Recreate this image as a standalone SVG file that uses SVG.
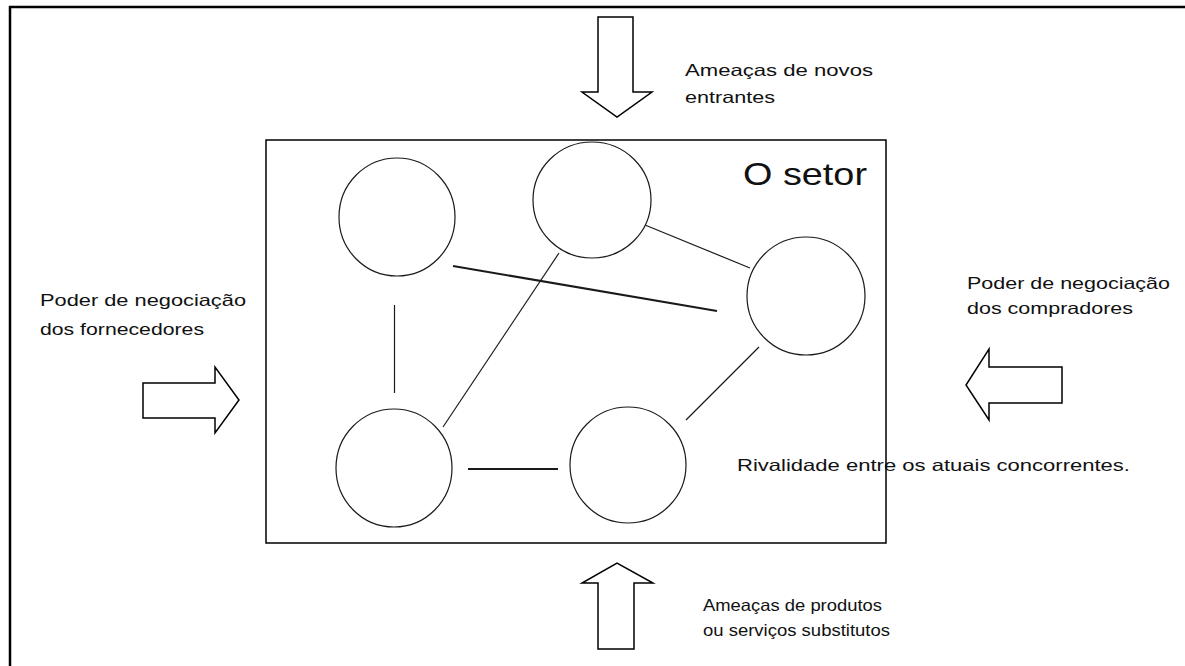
<svg xmlns="http://www.w3.org/2000/svg" width="1185" height="666" viewBox="0 0 1185 666">
  <style>
    .frame { stroke: #000; stroke-width: 2.5; fill: none; }
    .box { stroke: #000; stroke-width: 1.5; fill: none; }
    .node { stroke: #1a1a1a; stroke-width: 1.2; fill: none; }
    .link { stroke: #1a1a1a; stroke-width: 1.2; fill: none; }
    .link.thick { stroke-width: 2; }
    .force { stroke: #000; stroke-width: 1.5; fill: #fff; stroke-linejoin: miter; }
    .lbl { font-family: "Liberation Sans", Arial, sans-serif; font-size: 16.5px; fill: #111; }
    .title { font-family: "Liberation Sans", Arial, sans-serif; font-size: 32px; fill: #111; }
  </style>

  <rect width="1185" height="666" fill="#fff"/>

  <!-- page border (top and left edges) -->
  <g id="frame">
    <line class="frame" x1="9" y1="7" x2="1185" y2="7"/>
    <line class="frame" x1="10" y1="6" x2="10" y2="666"/>
  </g>

  <!-- the industry box -->
  <g id="setor">
    <rect class="box" x="266" y="140" width="620" height="403"/>
    <text class="title" x="743" y="185" textLength="124" lengthAdjust="spacingAndGlyphs">O setor</text>
  </g>

  <!-- competitors -->
  <g id="firm-top-left"><ellipse class="node" cx="397" cy="217" rx="58" ry="59"/></g>
  <g id="firm-top-mid"><ellipse class="node" cx="592" cy="200" rx="59" ry="58"/></g>
  <g id="firm-right"><ellipse class="node" cx="806" cy="296" rx="59" ry="59"/></g>
  <g id="firm-bottom-left"><ellipse class="node" cx="394" cy="468" rx="58" ry="59"/></g>
  <g id="firm-bottom-mid"><ellipse class="node" cx="628" cy="465" rx="58" ry="58"/></g>

  <!-- rivalry links -->
  <g id="connectors">
    <line class="link" x1="394.5" y1="305" x2="394.5" y2="393"/>
    <line class="link thick" x1="453" y1="266" x2="717" y2="311"/>
    <line class="link" x1="559" y1="253" x2="443" y2="427"/>
    <line class="link" x1="645" y1="225" x2="750" y2="268"/>
    <line class="link" x1="759" y1="347" x2="686" y2="420"/>
    <line class="link thick" x1="468" y1="469" x2="558" y2="469"/>
  </g>

  <!-- external forces -->
  <g id="novos-entrantes">
    <polygon class="force" points="598,17 633,17 633,92 652,92 617,117 582,92 598,92"/>
    <text class="lbl" x="685" y="76" textLength="188" lengthAdjust="spacingAndGlyphs">Ameaças de novos</text>
    <text class="lbl" x="685" y="103" textLength="90" lengthAdjust="spacingAndGlyphs">entrantes</text>
  </g>

  <g id="fornecedores">
    <polygon class="force" points="143,383 215,383 215,367 239,400 215,433 215,418 143,418"/>
    <text class="lbl" x="40" y="306" textLength="206" lengthAdjust="spacingAndGlyphs">Poder de negociação</text>
    <text class="lbl" x="40" y="335" textLength="164" lengthAdjust="spacingAndGlyphs">dos fornecedores</text>
  </g>

  <g id="compradores">
    <polygon class="force" points="1062,367 989,367 989,349 966,385 989,420 989,403 1062,403"/>
    <text class="lbl" x="967" y="289" textLength="203" lengthAdjust="spacingAndGlyphs">Poder de negociação</text>
    <text class="lbl" x="967" y="314" textLength="166" lengthAdjust="spacingAndGlyphs">dos compradores</text>
  </g>

  <g id="rivalidade">
    <text class="lbl" x="737" y="471" textLength="393" lengthAdjust="spacingAndGlyphs">Rivalidade entre os atuais concorrentes.</text>
  </g>

  <g id="substitutos">
    <polygon class="force" points="598,649 634,649 634,583 653,583 617,563 582,583 598,583"/>
    <text class="lbl" x="703" y="611" textLength="179" lengthAdjust="spacingAndGlyphs">Ameaças de produtos</text>
    <text class="lbl" x="703" y="636" textLength="187" lengthAdjust="spacingAndGlyphs">ou serviços substitutos</text>
  </g>
</svg>
